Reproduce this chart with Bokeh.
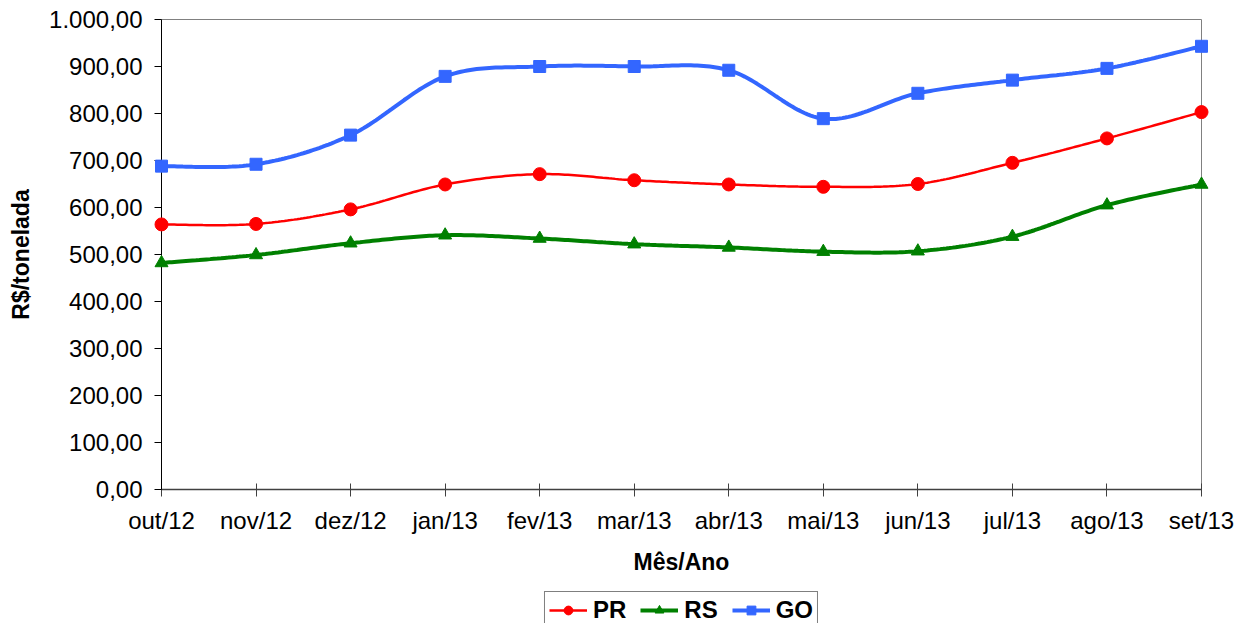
import numpy as np
from bokeh.plotting import figure
from bokeh.layouts import column
from bokeh.models import Legend, LegendItem, FixedTicker, Range1d
from bokeh.embed import file_html
from bokeh.resources import INLINE

months = ["out/12", "nov/12", "dez/12", "jan/13", "fev/13", "mar/13",
          "abr/13", "mai/13", "jun/13", "jul/13", "ago/13", "set/13"]
pr = [564, 565, 596, 649, 671, 658, 649, 644, 650, 695, 747, 803]
rs = [482, 499, 524, 541, 534, 522, 515, 506, 507, 538, 605, 649]
go = [688, 692, 754, 879, 900, 900, 892, 789, 843, 871, 896, 943]
y_ticks = [0, 100, 200, 300, 400, 500, 600, 700, 800, 900, 1000]
y_labels = ["0,00", "100,00", "200,00", "300,00", "400,00", "500,00",
            "600,00", "700,00", "800,00", "900,00", "1.000,00"]

FONT = "Liberation Sans"
FS = "24px"


def smooth(vals, n=30):
    P = np.column_stack([np.arange(len(vals), dtype=float), np.array(vals, float)])
    segs = []
    m = len(P)
    for i in range(m - 1):
        p0 = P[i - 1] if i > 0 else P[i]
        p1, p2 = P[i], P[i + 1]
        p3 = P[i + 2] if i + 2 < m else P[i + 1]
        c1 = p1 + (p2 - p0) / 6.0
        c2 = p2 - (p3 - p1) / 6.0
        t = np.linspace(0, 1, n, endpoint=(i == m - 2))[:, None]
        seg = (1 - t) ** 3 * p1 + 3 * (1 - t) ** 2 * t * c1 + 3 * (1 - t) * t ** 2 * c2 + t ** 3 * p2
        segs.append(seg)
    a = np.vstack(segs)
    return a[:, 0], a[:, 1]


p = figure(width=1245, height=590, output_backend="svg", toolbar_location=None,
           x_range=Range1d(0, 11), y_range=Range1d(0, 1000),
           min_border_left=161, min_border_right=44, min_border_top=19, min_border_bottom=101)
p.xgrid.visible = False
p.ygrid.visible = False
p.outline_line_color = "#808080"
p.outline_line_width = 1
p.background_fill_color = "white"
p.border_fill_color = "white"

# small figure that only carries the legend below the chart
pl = figure(width=1245, height=40, output_backend="svg", toolbar_location=None,
            x_range=Range1d(100, 101), y_range=Range1d(100, 101),
            x_axis_location=None, y_axis_location=None,
            min_border_left=118, min_border_right=0, min_border_top=0, min_border_bottom=0)
pl.xgrid.visible = False
pl.ygrid.visible = False
pl.outline_line_color = None
pl.border_fill_color = "white"
pl.background_fill_color = "white"

xi = list(range(len(months)))
series = [("PR", pr, "#FF0000", 2.5, "circle", 13),
          ("RS", rs, "#008000", 4, "triangle", 13),
          ("GO", go, "#3366FF", 4, "square", 12)]
items = []
for name, vals, col, lw, mk, sz in series:
    sx, sy = smooth(vals)
    p.line(sx, sy, line_color=col, line_width=lw)
    p.scatter(xi, vals, marker=mk, size=sz, fill_color=col, line_color=col, level="overlay")
    l2 = pl.line(xi, vals, line_color=col, line_width=lw)
    s2 = pl.scatter(xi, vals, marker=mk, size=sz, fill_color=col, line_color=col)
    items.append(LegendItem(label=name, renderers=[l2, s2]))

# axes
p.yaxis.ticker = FixedTicker(ticks=y_ticks)
p.yaxis.major_label_overrides = {t: l for t, l in zip(y_ticks, y_labels)}
p.xaxis.ticker = FixedTicker(ticks=xi)
p.xaxis.major_label_overrides = {i: m for i, m in zip(xi, months)}
for ax in (p.xaxis[0], p.yaxis[0]):
    ax.major_label_text_font = FONT
    ax.major_label_text_font_size = FS
    ax.major_label_text_color = "black"
    ax.axis_label_text_font = FONT
    ax.axis_label_text_font_size = "23px"
    ax.axis_label_text_font_style = "bold"
    ax.axis_label_text_color = "black"
    ax.minor_tick_line_color = None
p.yaxis.axis_line_color = "black"
p.yaxis.major_tick_line_color = "black"
p.yaxis.major_tick_in = 0
p.yaxis.major_tick_out = 7
p.yaxis.major_label_standoff = 12
p.yaxis.axis_label = "R$/tonelada"
p.yaxis.axis_label_standoff = 12
p.xaxis.axis_line_color = "#404040"
p.xaxis.axis_line_width = 1.5
p.xaxis.major_tick_line_color = "#404040"
p.xaxis.major_tick_in = 6
p.xaxis.major_tick_out = 7
p.xaxis.major_label_standoff = 10
p.xaxis.axis_label = "Mês/Ano"
p.xaxis.axis_label_standoff = 12

legend = Legend(items=items, orientation="horizontal", location="top_center",
                label_text_font=FONT, label_text_font_size=FS,
                label_text_font_style="bold", label_text_color="black",
                border_line_color="black", border_line_width=1.5,
                glyph_width=38, glyph_height=22, label_standoff=6, spacing=14,
                padding=4, margin=1, background_fill_color="white")
pl.add_layout(legend, "center")

open("out.html", "w").write(file_html(column(p, pl, spacing=0), INLINE))
